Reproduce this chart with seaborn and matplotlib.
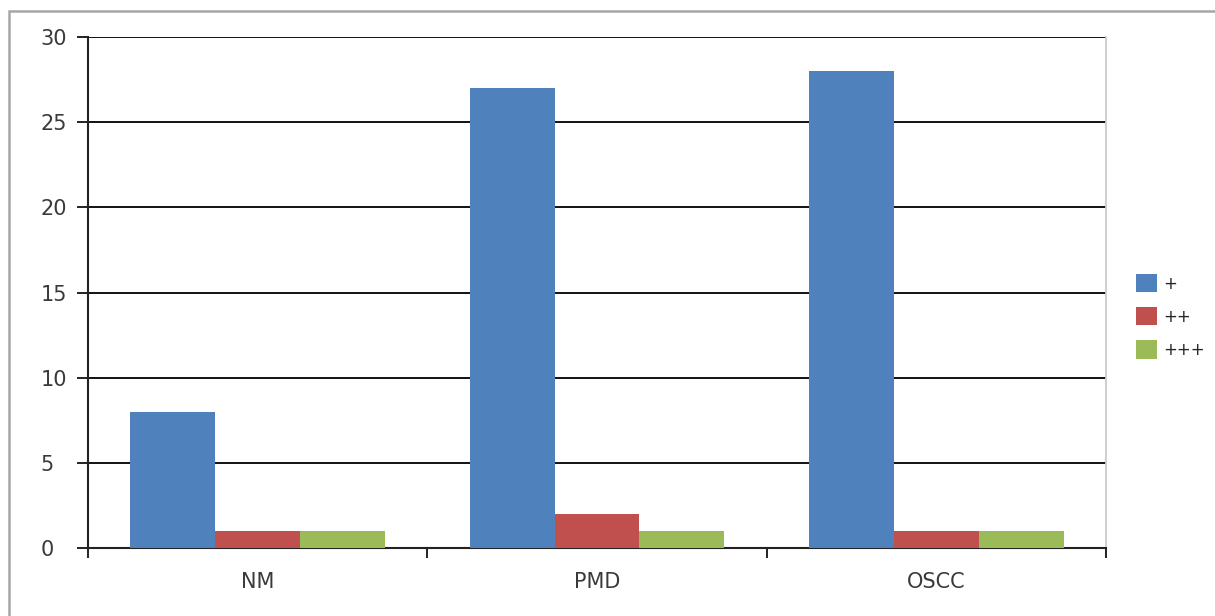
import matplotlib
matplotlib.use("Agg")
import matplotlib.pyplot as plt
import seaborn as sns
import pandas as pd
from matplotlib.patches import Rectangle

categories = ["NM", "PMD", "OSCC"]
series_names = ["+", "++", "+++"]
plus_values = [8, 27, 28]
plus2_values = [1, 2, 1]
plus3_values = [1, 1, 1]
y_ticks = [0, 5, 10, 15, 20, 25, 30]

colors = ["#4F81BD", "#C0504D", "#9BBB59"]

rows = []
for name, vals in zip(series_names, [plus_values, plus2_values, plus3_values]):
    for cat, v in zip(categories, vals):
        rows.append({"group": cat, "grade": name, "count": v})
df = pd.DataFrame(rows)

sns.set_style("white")
plt.rcParams["font.family"] = ["DejaVu Sans"]

fig = plt.figure(figsize=(12.15, 6.16), dpi=100)
ax = fig.add_axes([88 / 1215, 1 - 548 / 616, (1106 - 88) / 1215, (548 - 37) / 616])

sns.barplot(data=df, x="group", y="count", hue="grade", order=categories,
            hue_order=series_names, palette=colors, width=0.75, gap=0,
            saturation=1, errorbar=None, ax=ax, zorder=3, linewidth=0)

text_color = "#3a3a3a"
ax.set_xlim(-0.5, 2.5)
ax.set_ylim(0, 30)
ax.set_yticks(y_ticks)
ax.set_yticklabels([str(t) for t in y_ticks], fontsize=15, color=text_color, ha="left")
ax.set_xticks(range(len(categories)))
ax.set_xticklabels(categories, fontsize=15, color=text_color)
ax.set_xticks([-0.5, 0.5, 1.5, 2.5], minor=True)
ax.tick_params(axis="x", which="both", bottom=True)
ax.tick_params(axis="x", which="major", length=0, pad=17)
ax.tick_params(axis="x", which="minor", length=7.5, width=1.4, color="#222222", direction="out")
ax.tick_params(axis="y", which="major", left=True, length=8, width=1.4,
               color="#222222", direction="out", pad=26)
ax.set_xlabel("")
ax.set_ylabel("")

ax.yaxis.grid(True, color="#111111", linewidth=1.4, zorder=0)
ax.set_axisbelow(True)

ax.spines["top"].set_visible(False)
ax.spines["right"].set_color("#cccccc")
ax.spines["right"].set_linewidth(1.3)
ax.spines["left"].set_color("#222222")
ax.spines["left"].set_linewidth(1.5)
ax.spines["bottom"].set_color("#222222")
ax.spines["bottom"].set_linewidth(1.5)

handles, labels = ax.get_legend_handles_labels()
ax.legend(handles, labels, loc="center left", bbox_to_anchor=((1136 - 88) / 1018, 0.453),
          frameon=False, fontsize=12, handlelength=1.26, handleheight=1.3,
          handletextpad=0.35, labelspacing=0.87, borderaxespad=0, borderpad=0)

# outer chart border
fig.patches.append(Rectangle((9 / 1215, -0.05), 1.2, 1 - 11 / 616 + 0.05,
                             transform=fig.transFigure, fill=False,
                             edgecolor="#a6a6a6", linewidth=1.8))

fig.savefig("out.png", dpi=100, facecolor="white")
